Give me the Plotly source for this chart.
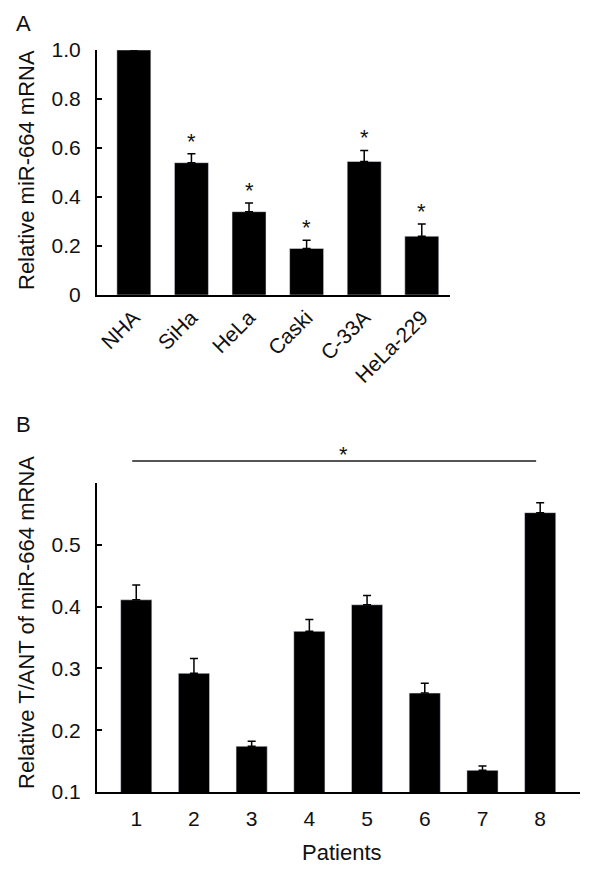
"""Expression de miR-664 : lignées cellulaires (A) et patients (B)."""

import plotly.graph_objects as go

# données
cell_lines = ["NHA", "SiHa", "HeLa", "Caski", "C-33A", "HeLa-229"]
cell_expr = [1.0, 0.54, 0.34, 0.19, 0.545, 0.24]
cell_err = [0.0, 0.037, 0.035, 0.033, 0.045, 0.05]
cell_sig = ["", "*", "*", "*", "*", "*"]
a_ticks = [0, 0.2, 0.4, 0.6, 0.8, 1.0]
a_ticklabels = ["0", "0.2", "0.4", "0.6", "0.8", "1.0"]

patients = ["1", "2", "3", "4", "5", "6", "7", "8"]
patient_ratio = [0.411, 0.292, 0.174, 0.36, 0.403, 0.26, 0.135, 0.552]
patient_err = [0.024, 0.024, 0.008, 0.019, 0.015, 0.016, 0.007, 0.016]
b_ticks = [0.1, 0.2, 0.3, 0.4, 0.5, 0.6]
b_ticklabels = ["0.1", "0.2", "0.3", "0.4", "0.5", ""]
sig_from, sig_to = 1, 8

FONT = "Liberation Sans, Arial, sans-serif"
W, H = 600, 877
OFF = 8  # marge du <body> de la page


def px(x):
    """position horizontale en pixels -> coordonnée papier"""
    return (x - OFF) / W


def py(y):
    """position verticale en pixels -> coordonnée papier"""
    return 1 - (y - OFF) / H


xa = list(range(len(cell_lines)))
xb = list(range(1, len(patients) + 1))
rng_a = [-0.64, 5.49]
rng_b = [0.32, 8.69]

fig = go.Figure()
fig.add_trace(go.Bar(
    x=xa, y=cell_expr, width=0.59, marker_color="black",
    error_y=dict(type="data", array=cell_err, arrayminus=[0] * len(cell_err),
                 symmetric=False, color="black", thickness=1.5, width=4),
    xaxis="x", yaxis="y"))
fig.add_trace(go.Bar(
    x=xb, y=patient_ratio, width=0.54, marker_color="black",
    error_y=dict(type="data", array=patient_err, arrayminus=[0] * len(patient_err),
                 symmetric=False, color="black", thickness=1.5, width=4),
    xaxis="x2", yaxis="y2"))

axis_common = dict(showline=True, linecolor="black", linewidth=2,
                   showgrid=False, zeroline=False, automargin=False,
                   tickfont=dict(family=FONT, size=21, color="#111"))

fig.update_layout(
    width=W, height=H, margin=dict(l=0, r=0, t=0, b=0, autoexpand=False),
    paper_bgcolor="white", plot_bgcolor="white", showlegend=False,
    xaxis=dict(domain=[px(97), px(450)], range=rng_a, tickmode="array",
               tickvals=xa, ticktext=cell_lines, tickangle=-45, ticks="",
               anchor="y", **axis_common),
    yaxis=dict(domain=[py(295), py(50)], range=[0, 1.0], tickmode="array",
               tickvals=a_ticks, ticktext=a_ticklabels, ticks="inside", ticklen=5,
               tickwidth=2, tickcolor="black", ticklabelstandoff=10,
               anchor="x", **axis_common),
    xaxis2=dict(domain=[px(97), px(580)], range=rng_b, tickmode="array",
                tickvals=xb, ticktext=patients, ticks="", ticklabelstandoff=7,
                anchor="y2", **axis_common),
    yaxis2=dict(domain=[py(792), py(483)], range=[0.1, 0.6], tickmode="array",
                tickvals=b_ticks, ticktext=b_ticklabels, ticks="inside", ticklen=5,
                tickwidth=2, tickcolor="black", ticklabelstandoff=10,
                anchor="x2", **axis_common),
)

# astérisques au-dessus des barres d'erreur
for x, v, e, s in zip(xa, cell_expr, cell_err, cell_sig):
    if s:
        fig.add_annotation(x=x, y=v + e, xref="x", yref="y", text=s, showarrow=False,
                           xanchor="center", yanchor="bottom", yshift=-2,
                           font=dict(family=FONT, size=22, color="#111"))

# ligne de significativité (panneau B)
sig_y = py(461)
fig.add_shape(type="line", xref="x2", yref="paper", x0=sig_from - 0.07, x1=sig_to - 0.07,
              y0=sig_y, y1=sig_y, line=dict(color="#555", width=2))
fig.add_annotation(x=4.6, y=sig_y, xref="x2", yref="paper", text="*", showarrow=False,
                   xanchor="center", yanchor="bottom", yshift=-8,
                   font=dict(family=FONT, size=22, color="#111"))

# titres d'axes et lettres des panneaux
title_font = dict(family=FONT, size=22, color="#111")
centre = dict(xref="paper", yref="paper", showarrow=False,
              xanchor="center", yanchor="middle")
fig.add_annotation(x=px(26), y=py(170), text="Relative miR-664 mRNA",
                   textangle=-90, font=title_font, **centre)
fig.add_annotation(x=px(26), y=py(623), text="Relative T/ANT of miR-664 mRNA",
                   textangle=-90, font=title_font, **centre)
fig.add_annotation(x=px(342), y=py(852), text="Patients", font=title_font, **centre)
fig.add_annotation(x=px(23), y=py(24), text="A", font=title_font, **centre)
fig.add_annotation(x=px(23), y=py(424), text="B", font=title_font, **centre)

fig.write_html("out.html")
